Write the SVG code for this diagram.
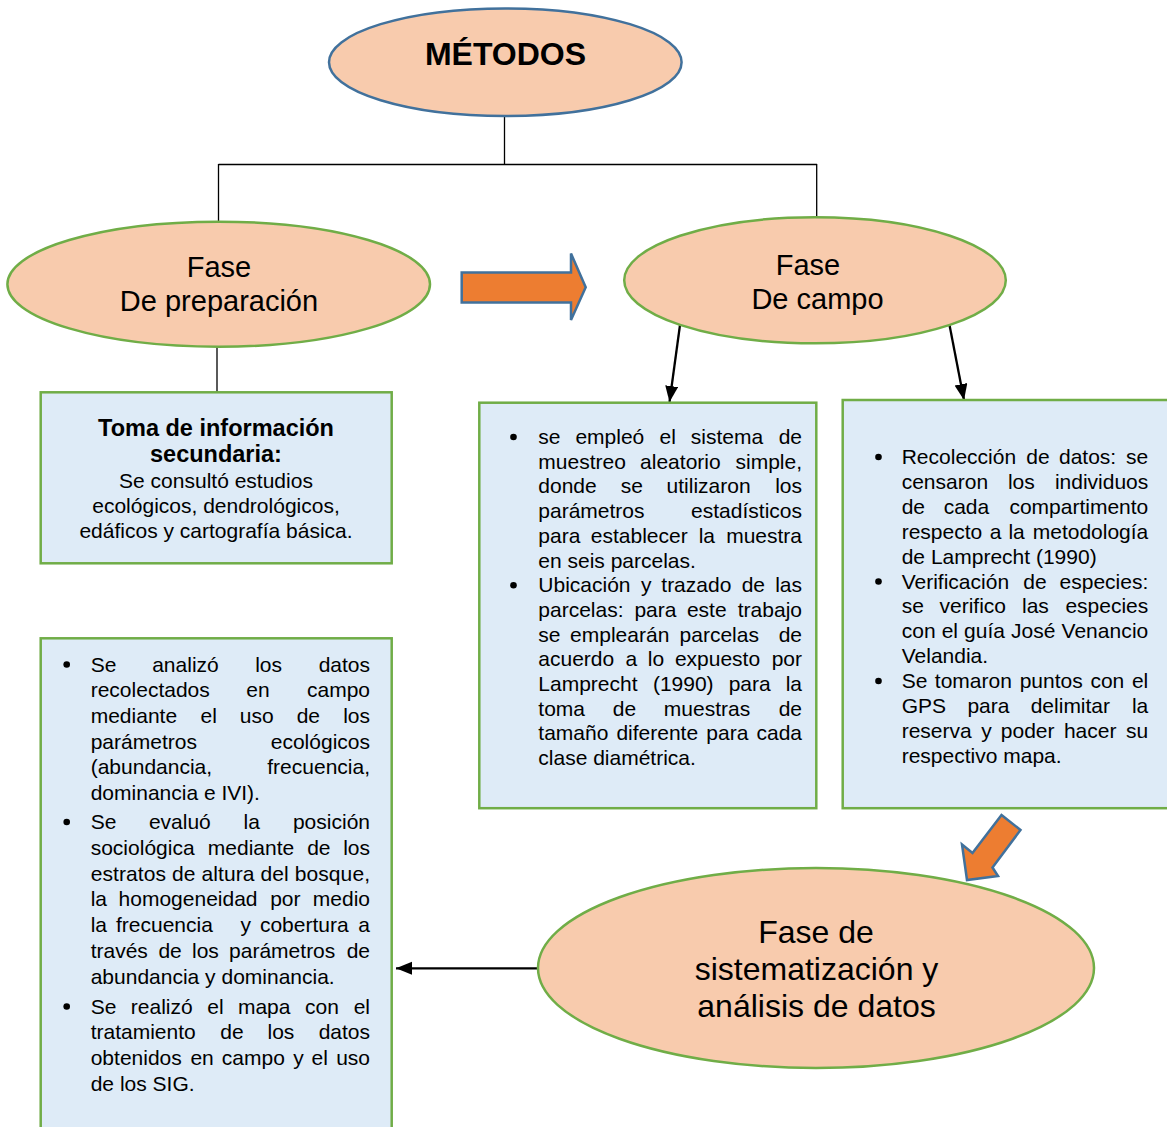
<svg xmlns="http://www.w3.org/2000/svg" width="1167" height="1127" viewBox="0 0 1167 1127">
<style>
text{font-family:"Liberation Sans",Arial,sans-serif;fill:#000}
.t{font-size:21px}
.e{text-anchor:end}
.c{text-anchor:middle}
.ell{fill:#F8CBAD;stroke:#70AD47;stroke-width:2.5}
.box{fill:#DEEBF7;stroke:#70AD47;stroke-width:2.5}
.blk{fill:#ED7D31;stroke:#41719C;stroke-width:2.5;stroke-linejoin:miter}
.ln{fill:none;stroke:#000;stroke-width:1.3}
.ar{fill:none;stroke:#000;stroke-width:2.3}
.b{fill:#000}
</style>
<defs>
<marker id="ah" markerUnits="userSpaceOnUse" markerWidth="18" markerHeight="14" refX="16" refY="6.5" orient="auto">
<path d="M0,0 L16,6.5 L0,13 z" fill="#000"/>
</marker>
</defs>

<g id="connectors">
<path class="ln" d="M504.5,116 V164.5 M218.5,164.5 H817 M218.5,164 V222 M816.7,164 V217.5"/>
<path class="ln" stroke="#444" d="M217,346.5 V392"/>
<line class="ar" x1="680" y1="325" x2="669.5" y2="402" marker-end="url(#ah)"/>
<line class="ar" x1="949.5" y1="325" x2="964" y2="400" marker-end="url(#ah)"/>
<line class="ar" x1="538" y1="968.3" x2="396" y2="968.3" marker-end="url(#ah)"/>
<polygon id="arrow-right" class="blk" points="461.7,272.5 571,272.5 571,253.5 585.7,287.3 571,320 571,302.5 461.7,302.5"/>
<polygon id="arrow-diag" class="blk" points="1001.5,815 1020.5,830 992.5,867.5 998,876 967,880 962,844.5 972.5,853"/>
</g>

<g id="metodos">
<ellipse cx="505.3" cy="62.2" rx="176.3" ry="53.8" fill="#F8CBAD" stroke="#41719C" stroke-width="2.5"/>
<text class="c" x="505.5" y="65" font-size="32" font-weight="bold">MÉTODOS</text>
</g>

<g id="fase-preparacion">
<ellipse class="ell" cx="218.7" cy="284.2" rx="211.3" ry="62.5"/>
<text class="c" x="219" y="277" font-size="29">Fase</text>
<text class="c" x="219" y="310.5" font-size="29">De preparación</text>
</g>

<g id="fase-campo">
<ellipse class="ell" cx="815" cy="280.3" rx="190.8" ry="63"/>
<text class="c" x="808" y="274.5" font-size="29">Fase</text>
<text class="c" x="817.5" y="308.5" font-size="29">De campo</text>
</g>

<g id="fase-sistematizacion">
<ellipse class="ell" cx="816" cy="968" rx="278" ry="100"/>
<text class="c" x="816" y="943" font-size="32">Fase de</text>
<text class="c" x="816.5" y="980" font-size="32">sistematización y</text>
<text class="c" x="816.5" y="1016.5" font-size="32">análisis de datos</text>
</g>

<g id="box-informacion">
<rect class="box" x="40.7" y="392.3" width="351" height="171"/>
<text class="c" x="216" y="436" font-size="23.5" font-weight="bold">Toma de información</text>
<text class="c" x="216" y="462" font-size="23.5" font-weight="bold">secundaria:</text>
<text class="t c" x="216" y="488">Se consultó estudios</text>
<text class="t c" x="216" y="513">ecológicos, dendrológicos,</text>
<text class="t c" x="216" y="538">edáficos y cartografía básica.</text>
</g>

<g id="box-campo-1">
<rect class="box" x="479.3" y="402.7" width="337" height="405.5"/>
<circle class="b" cx="513.5" cy="437" r="3.3"/>
<circle class="b" cx="513.5" cy="585.2" r="3.3"/>
<text class="t" y="444"><tspan x="538.3">se</tspan><tspan x="575.4">empleó</tspan><tspan x="659.6">el</tspan><tspan x="690.8">sistema</tspan><tspan x="802" class="e">de</tspan></text>
<text class="t" y="468.7"><tspan x="538.3">muestreo</tspan><tspan x="640.1">aleatorio</tspan><tspan x="802" class="e">simple,</tspan></text>
<text class="t" y="493.4"><tspan x="538.3">donde</tspan><tspan x="620.7">se</tspan><tspan x="666.6">utilizaron</tspan><tspan x="802" class="e">los</tspan></text>
<text class="t" y="518.1"><tspan x="538.3">parámetros</tspan><tspan x="802" class="e">estadísticos</tspan></text>
<text class="t" y="542.8"><tspan x="538.3">para</tspan><tspan x="590.8">establecer</tspan><tspan x="698.7">la</tspan><tspan x="802" class="e">muestra</tspan></text>
<text class="t" x="538.3" y="567.5">en seis parcelas.</text>
<text class="t" y="592.2"><tspan x="538.3">Ubicación</tspan><tspan x="641.1">y</tspan><tspan x="661.3">trazado</tspan><tspan x="741.7">de</tspan><tspan x="802" class="e">las</tspan></text>
<text class="t" y="616.9"><tspan x="538.3">parcelas:</tspan><tspan x="634.4">para</tspan><tspan x="686.9">este</tspan><tspan x="802" class="e">trabajo</tspan></text>
<text class="t" y="641.6"><tspan x="538.3">se</tspan><tspan x="570.1">emplearán</tspan><tspan x="679.6">parcelas</tspan><tspan x="802" class="e">de</tspan></text>
<text class="t" y="666.3"><tspan x="538.3">acuerdo</tspan><tspan x="625.5">a</tspan><tspan x="647.8">lo</tspan><tspan x="674.9">expuesto</tspan><tspan x="802" class="e">por</tspan></text>
<text class="t" y="691"><tspan x="538.3">Lamprecht</tspan><tspan x="652.9">(1990)</tspan><tspan x="728.7">para</tspan><tspan x="802" class="e">la</tspan></text>
<text class="t" y="715.7"><tspan x="538.3">toma</tspan><tspan x="612.8">de</tspan><tspan x="663.8">muestras</tspan><tspan x="802" class="e">de</tspan></text>
<text class="t" y="740.4"><tspan x="538.3">tamaño</tspan><tspan x="616.4">diferente</tspan><tspan x="706.3">para</tspan><tspan x="802" class="e">cada</tspan></text>
<text class="t" x="538.3" y="765.1">clase diamétrica.</text>
</g>

<g id="box-campo-2">
<rect class="box" x="842.7" y="400" width="335" height="408.2"/>
<circle class="b" cx="878.5" cy="457" r="3.3"/>
<circle class="b" cx="878.5" cy="581.5" r="3.3"/>
<circle class="b" cx="878.5" cy="681" r="3.3"/>
<text class="t" y="464"><tspan x="901.7">Recolección</tspan><tspan x="1026.3">de</tspan><tspan x="1059">datos:</tspan><tspan x="1148.3" class="e">se</tspan></text>
<text class="t" y="488.9"><tspan x="901.7">censaron</tspan><tspan x="1007.9">los</tspan><tspan x="1148.3" class="e">individuos</tspan></text>
<text class="t" y="513.8"><tspan x="901.7">de</tspan><tspan x="943.7">cada</tspan><tspan x="1148.3" class="e">compartimento</tspan></text>
<text class="t" y="538.7"><tspan x="901.7">respecto</tspan><tspan x="989.8">a</tspan><tspan x="1008.4">la</tspan><tspan x="1148.3" class="e">metodología</tspan></text>
<text class="t" x="901.7" y="563.6">de Lamprecht (1990)</text>
<text class="t" y="588.5"><tspan x="901.7">Verificación</tspan><tspan x="1023.3">de</tspan><tspan x="1148.3" class="e">especies:</tspan></text>
<text class="t" y="613.4"><tspan x="901.7">se</tspan><tspan x="939.5">verifico</tspan><tspan x="1022">las</tspan><tspan x="1148.3" class="e">especies</tspan></text>
<text class="t" x="901.7" y="638.3" textLength="246.6" lengthAdjust="spacing">con el guía José Venancio</text>
<text class="t" x="901.7" y="663.2">Velandia.</text>
<text class="t" y="688.1"><tspan x="901.7">Se</tspan><tspan x="934.8">tomaron</tspan><tspan x="1019.7">puntos</tspan><tspan x="1090.4">con</tspan><tspan x="1148.3" class="e">el</tspan></text>
<text class="t" y="713"><tspan x="901.7">GPS</tspan><tspan x="967.4">para</tspan><tspan x="1030.7">delimitar</tspan><tspan x="1148.3" class="e">la</tspan></text>
<text class="t" y="737.9"><tspan x="901.7">reserva</tspan><tspan x="981.3">y</tspan><tspan x="1000.8">poder</tspan><tspan x="1063.9">hacer</tspan><tspan x="1148.3" class="e">su</tspan></text>
<text class="t" x="901.7" y="762.8">respectivo mapa.</text>
</g>

<g id="box-analisis">
<rect class="box" x="40.7" y="638.3" width="351" height="500"/>
<circle class="b" cx="66.7" cy="664.5" r="3.3"/>
<circle class="b" cx="66.7" cy="822" r="3.3"/>
<circle class="b" cx="66.7" cy="1006.5" r="3.3"/>
<text class="t" y="671.5"><tspan x="90.7">Se</tspan><tspan x="152.2">analizó</tspan><tspan x="255.2">los</tspan><tspan x="370" class="e">datos</tspan></text>
<text class="t" y="697.2"><tspan x="90.7">recolectados</tspan><tspan x="246.3">en</tspan><tspan x="370" class="e">campo</tspan></text>
<text class="t" y="722.9"><tspan x="90.7">mediante</tspan><tspan x="200.6">el</tspan><tspan x="239.8">uso</tspan><tspan x="296.7">de</tspan><tspan x="370" class="e">los</tspan></text>
<text class="t" y="748.6"><tspan x="90.7">parámetros</tspan><tspan x="370" class="e">ecológicos</tspan></text>
<text class="t" y="774.3"><tspan x="90.7">(abundancia,</tspan><tspan x="370" class="e">frecuencia,</tspan></text>
<text class="t" x="90.7" y="800">dominancia e IVI).</text>
<text class="t" y="829"><tspan x="90.7">Se</tspan><tspan x="148.9">evaluó</tspan><tspan x="243.6">la</tspan><tspan x="370" class="e">posición</tspan></text>
<text class="t" y="854.8"><tspan x="90.7">sociológica</tspan><tspan x="207.8">mediante</tspan><tspan x="307.2">de</tspan><tspan x="370" class="e">los</tspan></text>
<text class="t" x="90.7" y="880.6" textLength="279.3" lengthAdjust="spacing">estratos de altura del bosque,</text>
<text class="t" y="906.4"><tspan x="90.7">la</tspan><tspan x="118.6">homogeneidad</tspan><tspan x="270.2">por</tspan><tspan x="370" class="e">medio</tspan></text>
<text class="t" y="932.2"><tspan x="90.7">la</tspan><tspan x="116">frecuencia</tspan><tspan x="240.4">y</tspan><tspan x="259.9">cobertura</tspan><tspan x="370" class="e">a</tspan></text>
<text class="t" y="958"><tspan x="90.7">través</tspan><tspan x="158.4">de</tspan><tspan x="192">los</tspan><tspan x="229.1">parámetros</tspan><tspan x="370" class="e">de</tspan></text>
<text class="t" x="90.7" y="983.8">abundancia y dominancia.</text>
<text class="t" y="1013.5"><tspan x="90.7">Se</tspan><tspan x="130.8">realizó</tspan><tspan x="207.3">el</tspan><tspan x="237.9">mapa</tspan><tspan x="305">con</tspan><tspan x="370" class="e">el</tspan></text>
<text class="t" y="1039.3"><tspan x="90.7">tratamiento</tspan><tspan x="220.3">de</tspan><tspan x="267.5">los</tspan><tspan x="370" class="e">datos</tspan></text>
<text class="t" y="1065.1"><tspan x="90.7">obtenidos</tspan><tspan x="190.4">en</tspan><tspan x="221.8">campo</tspan><tspan x="293.2">y</tspan><tspan x="311.6">el</tspan><tspan x="370" class="e">uso</tspan></text>
<text class="t" x="90.7" y="1090.9">de los SIG.</text>
</g>
</svg>
